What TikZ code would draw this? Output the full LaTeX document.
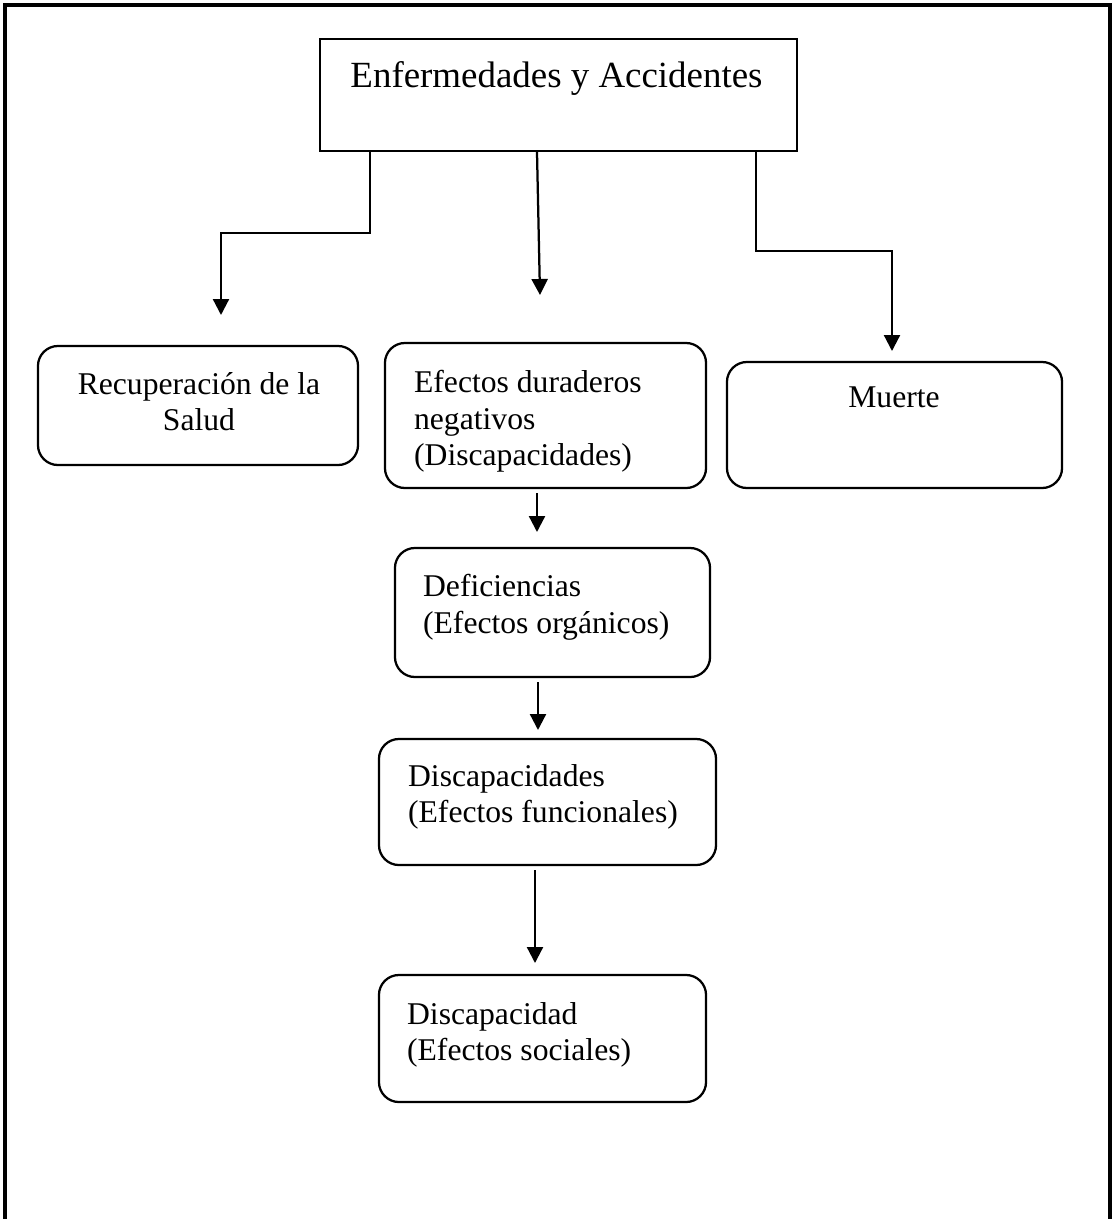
\documentclass[tikz,border=0pt]{standalone}
\usepackage{fontspec}
\setmainfont{Liberation Serif}
\usetikzlibrary{positioning}
\usetikzlibrary{arrows.meta}

\begin{document}
\begin{tikzpicture}[x=0.025cm, y=-0.025cm, line width=1.6pt,
    box/.style={draw, rounded corners=0.5cm, inner sep=0pt},
    txt/.style={inner sep=0pt, align=left, font=\fontsize{22.5}{26.1}\selectfont},
    conn/.style={-{Triangle[width=0.4cm, length=0.4cm]}}]

\useasboundingbox (0,0) rectangle (1115,1219);

% Page frame
\draw[line width=2.3pt] (5,1219) -- (5,5) -- (1110,5) -- (1110,1219);

% Top box
\node[draw, inner sep=0pt, minimum width=11.925cm, minimum height=2.8cm] (top) at (558.5,95) {};
\node[txt, anchor=north, font=\fontsize{26.25}{30}\selectfont] (toptxt) at (556.5,60) {Enfermedades y Accidentes};

% First row of outcomes
\node[box, minimum width=8cm, minimum height=2.975cm] (rec) at (198,405.5) {};
\node[txt, anchor=north, align=center] (rectxt) at (199,371) {Recuperación de la\\Salud};

\node[box, minimum width=8.025cm, minimum height=3.625cm] (efe) at (545.5,415.5) {};
\node[txt, anchor=north west] (efetxt) at (413,369) {Efectos duraderos\\negativos\\(Discapacidades)};

\node[box, minimum width=8.375cm, minimum height=3.15cm] (mue) at (894.5,425) {};
\node[txt, anchor=north] (muetxt) at (894,386) {Muerte};

% Chain of effects
\node[box, minimum width=7.875cm, minimum height=3.225cm] (def) at (552.5,612.5) {};
\node[txt, anchor=north west] (deftxt) at (422,573) {Deficiencias\\(Efectos orgánicos)};

\node[box, minimum width=8.425cm, minimum height=3.15cm] (dsc) at (547.5,802) {};
\node[txt, anchor=north west] (dsctxt) at (407,763) {Discapacidades\\(Efectos funcionales)};

\node[box, minimum width=8.175cm, minimum height=3.175cm] (soc) at (542.5,1038.5) {};
\node[txt, anchor=north west] (soctxt) at (406,1001) {Discapacidad\\(Efectos sociales)};

% Arrow ends and bends
\coordinate (rbend) at (370,233);
\coordinate (rtip) at (221,315);
\coordinate (mfrom) at (537,151);
\coordinate (mtip) at (540,295);
\coordinate (kbend) at (756,251);
\coordinate (ktip) at (892,351);
\coordinate (e2d) at (537,532);
\coordinate (d2c) at (538,730);
\coordinate (c2s) at (535,963);

% Connections from the top box
\draw[conn] (top.south -| rbend) -- (rbend) -- (rbend -| rtip) -- (rtip);
\draw[conn] (top.south -| mfrom) -- (mtip);
\draw[conn] (top.south -| kbend) -- (kbend) -- (kbend -| ktip) -- (ktip);

% Connections down the chain
\foreach \a/\t in {efe/e2d, def/d2c, dsc/c2s} {
    \draw[conn, shorten <=0.1cm] (\a.south -| \t) -- (\t);
}

\end{tikzpicture}
\end{document}
